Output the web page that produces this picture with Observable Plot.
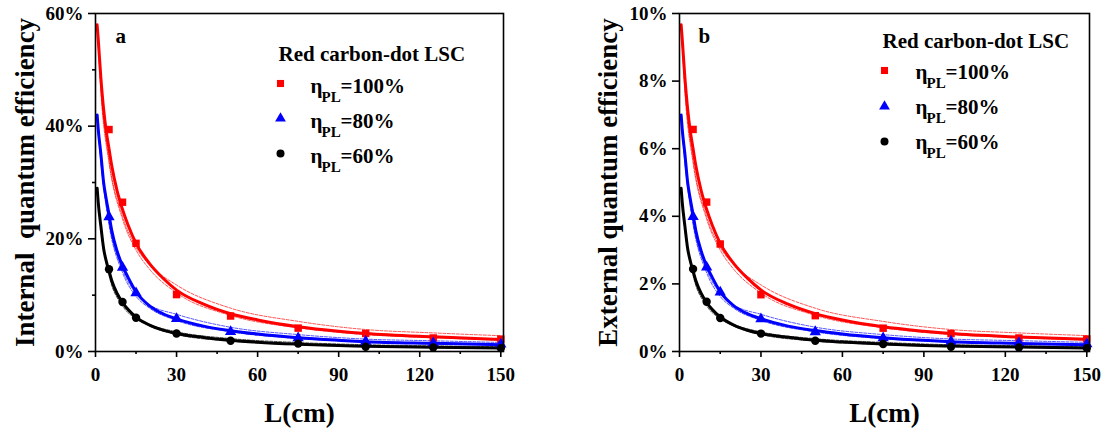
<!DOCTYPE html>
<html><head><meta charset="utf-8">
<script src="https://cdn.jsdelivr.net/npm/d3@7"></script>
<script src="https://cdn.jsdelivr.net/npm/@observablehq/plot@0.6"></script>
<style>
body{margin:0;background:#fff;}
#wrap{display:flex;width:1107px;height:432px;overflow:hidden;}
#wrap svg{font-family:"Liberation Serif","Times New Roman",serif;}
</style></head><body><div id="wrap"></div>
<script>
// ---- series definitions ----
const seriesLabels = ["100%", "80%", "60%"];
const seriesColors = ["#ff0000", "#0000ff", "#000000"];
const seriesSymbols = ["square", "triangle", "circle"];
const legendTitle = "Red carbon-dot LSC";

// ---- measured points ----
const measL = [5, 10, 15, 30, 50, 75, 100, 125, 150];
const iqeRed   = [39.4, 26.5, 19.2, 10.1, 6.3, 4.15, 3.2, 2.4, 2.2];
const iqeBlue  = [23.9, 14.9, 10.4, 5.8, 3.5, 2.4, 1.8, 1.5, 1.3];
const iqeBlack = [14.6, 8.8, 6.0, 3.2, 1.9, 1.4, 0.85, 0.7, 0.6];
const eqeRed   = [6.57, 4.42, 3.18, 1.68, 1.06, 0.69, 0.53, 0.40, 0.37];
const eqeBlue  = [3.99, 2.49, 1.75, 0.96, 0.58, 0.40, 0.30, 0.26, 0.22];
const eqeBlack = [2.44, 1.47, 0.99, 0.53, 0.32, 0.22, 0.14, 0.12, 0.10];

// ---- fitted curves ----
const fitL = [0.6, 1, 2, 3, 4, 5, 6, 8, 10, 12, 15, 20, 25, 30, 40, 50, 60, 75, 90, 100, 125, 150];
const iqeFitRed   = [58, 55.5, 48.5, 43, 39, 36, 33, 28.5, 25.2, 22.5, 19.2, 15.6, 13, 10.9, 8.4, 6.7, 5.6, 4.4, 3.6, 3.2, 2.6, 2.15];
const iqeFitBlue  = [42, 39.5, 35, 30, 27, 24.3, 21.5, 17.8, 15.2, 13.2, 10.6, 8.1, 6.7, 5.8, 4.5, 3.7, 3.1, 2.45, 2.0, 1.75, 1.45, 1.2];
const iqeFitBlack = [29, 26.5, 22.2, 18.3, 16, 14.3, 12.6, 10.3, 8.7, 7.5, 6.1, 4.7, 3.8, 3.2, 2.5, 2.0, 1.65, 1.3, 1.05, 0.95, 0.75, 0.62];
const eqeFitRed   = [9.67, 9.25, 8.08, 7.17, 6.5, 6.0, 5.5, 4.75, 4.2, 3.75, 3.2, 2.6, 2.17, 1.82, 1.4, 1.12, 0.93, 0.73, 0.6, 0.53, 0.43, 0.36];
const eqeFitBlue  = [7.0, 6.58, 5.83, 5.0, 4.5, 4.05, 3.58, 2.97, 2.53, 2.2, 1.77, 1.35, 1.12, 0.97, 0.75, 0.62, 0.52, 0.41, 0.33, 0.29, 0.24, 0.2];
const eqeFitBlack = [4.83, 4.42, 3.7, 3.05, 2.67, 2.38, 2.1, 1.72, 1.45, 1.25, 1.02, 0.78, 0.63, 0.53, 0.42, 0.33, 0.28, 0.22, 0.18, 0.16, 0.13, 0.1];

// ---- thin confidence band lines ----
const bandL = [1, 2, 5, 10, 15, 20, 30, 50, 75, 100, 125, 150];
const iqeBandRed1   = [55, 47, 34, 24, 18.5, 15.4, 11.8, 7.7, 5.35, 3.9, 3.3, 2.8];
const iqeBandRed2   = [54.5, 46, 33.5, 23.5, 18, 14.6, 10.4, 6.4, 4.2, 3.0, 2.45, 2.0];
const iqeBandBlue1  = [39, 34, 23, 14.5, 10.3, 8.3, 6.6, 4.3, 3.0, 2.2, 1.9, 1.6];
const iqeBandBlue2  = [38.8, 33.5, 22.5, 14, 9.8, 7.7, 5.5, 3.5, 2.3, 1.65, 1.35, 1.1];
const iqeBandBlack1 = [26.3, 21.8, 13.8, 8.4, 6.0, 4.8, 3.5, 2.3, 1.6, 1.2, 1.0, 0.85];
const iqeBandBlack2 = [26.2, 21.6, 13.5, 8.1, 5.8, 4.5, 3.0, 1.85, 1.2, 0.85, 0.7, 0.55];
const eqeBandRed1   = [9.17, 7.83, 5.67, 4.0, 3.08, 2.57, 1.97, 1.28, 0.89, 0.65, 0.55, 0.47];
const eqeBandRed2   = [9.08, 7.67, 5.58, 3.92, 3.0, 2.43, 1.73, 1.07, 0.7, 0.5, 0.41, 0.33];
const eqeBandBlue1  = [6.5, 5.67, 3.83, 2.42, 1.72, 1.38, 1.1, 0.72, 0.5, 0.37, 0.32, 0.27];
const eqeBandBlue2  = [6.47, 5.58, 3.75, 2.33, 1.63, 1.28, 0.92, 0.58, 0.38, 0.28, 0.23, 0.18];
const eqeBandBlack1 = [4.38, 3.63, 2.3, 1.4, 1.0, 0.8, 0.58, 0.38, 0.27, 0.2, 0.17, 0.14];
const eqeBandBlack2 = [4.37, 3.6, 2.25, 1.35, 0.97, 0.75, 0.5, 0.31, 0.2, 0.14, 0.12, 0.09];

// ---- ticks ----
const xTicks = [0, 30, 60, 90, 120, 150];
const xMinorTicks = [15, 45, 75, 105, 135];
const iqeTicks = [0, 20, 40, 60];
const iqeMinorTicks = [10, 30, 50];
const eqeTicks = [0, 2, 4, 6, 8, 10];
const eqeMinorTicks = [];

const FONT = "Liberation Serif, Times New Roman, serif";

function toRows(xs, ys) { return xs.map((x, i) => ({L: x, v: ys[i]})); }

function panel(o) {
  const marks = [];
  o.bands.forEach((pair, s) => pair.forEach(b => {
    marks.push(Plot.line(toRows(bandL, b), {x: "L", y: "v", stroke: seriesColors[s], strokeWidth: 0.8, strokeDasharray: "3,1.5", strokeOpacity: 0.85, curve: "monotone-x"}));
  }));
  o.fits.forEach((f, s) => {
    marks.push(Plot.line(toRows(fitL, f), {x: "L", y: "v", stroke: seriesColors[s], strokeWidth: 3, curve: "monotone-x"}));
  });
  o.meas.forEach((m, s) => {
    marks.push(Plot.dot(toRows(measL, m), {x: "L", y: "v", symbol: seriesSymbols[s], fill: seriesColors[s], stroke: "none", r: 4.2}));
  });
  marks.push(Plot.frame({stroke: "#000", strokeWidth: 1.6}));
  marks.push(Plot.axisX({ticks: xTicks, tickSize: 6, tickPadding: 10, label: null, fontSize: 19, fontWeight: "bold", strokeWidth: 1.6}));
  marks.push(Plot.axisX({ticks: xMinorTicks, tickSize: 3, tickFormat: () => "", label: null, strokeWidth: 1.6}));
  marks.push(Plot.axisY({ticks: o.yTicks, tickSize: 7, tickPadding: 5, tickFormat: d => d + "%", label: null, fontSize: 19, fontWeight: "bold", strokeWidth: 1.6}));
  if (o.yMinor.length) marks.push(Plot.axisY({ticks: o.yMinor, tickSize: 3, tickFormat: () => "", label: null, strokeWidth: 1.6}));
  // axis titles
  marks.push(Plot.text([o.yTitle], {text: d => d, frameAnchor: "left", textAnchor: "middle", lineAnchor: "middle", rotate: -90, dx: o.yTitleDx, fontSize: 27, fontWeight: "bold"}));
  marks.push(Plot.text(["L(cm)"], {text: d => d, frameAnchor: "bottom", textAnchor: "middle", lineAnchor: "middle", dy: 62, fontSize: 27, fontWeight: "bold"}));
  // panel letter
  marks.push(Plot.text([o.letter], {text: d => d, frameAnchor: "top-left", textAnchor: "start", lineAnchor: "middle", dx: o.letterDx, dy: 23, fontSize: 21, fontWeight: "bold"}));
  // legend
  const lg = o.legend;
  marks.push(Plot.text([legendTitle], {text: d => d, frameAnchor: "top-left", textAnchor: "start", lineAnchor: "middle", dx: lg.titleDx, dy: lg.titleDy, fontSize: 21, fontWeight: "bold"}));
  seriesLabels.forEach((lab, s) => {
    marks.push(Plot.dot([0], {frameAnchor: "top-left", dx: lg.markDx, dy: lg.markDy[s], symbol: seriesSymbols[s], fill: seriesColors[s], r: 4}));
    marks.push(Plot.text(["η"], {text: d => d, frameAnchor: "top-left", textAnchor: "start", lineAnchor: "middle", dx: lg.etaDx, dy: lg.textDy[s], fontSize: 21, fontWeight: "bold"}));
    marks.push(Plot.text(["PL"], {text: d => d, frameAnchor: "top-left", textAnchor: "start", lineAnchor: "middle", dx: lg.etaDx + 11, dy: lg.textDy[s] + 11, fontSize: 15, fontWeight: "bold"}));
    marks.push(Plot.text(["=" + lab], {text: d => d, frameAnchor: "top-left", textAnchor: "start", lineAnchor: "middle", dx: lg.etaDx + 30, dy: lg.textDy[s], fontSize: 21, fontWeight: "bold"}));
  });
  return Plot.plot({
    width: o.width, height: 432,
    marginLeft: o.marginLeft, marginRight: o.marginRight, marginTop: 13, marginBottom: 81,
    x: {domain: [0, 151]},
    y: {domain: [0, o.yMax]},
    style: {fontFamily: FONT, fontWeight: "bold", fontSize: "19px", color: "#000", background: "#fff", overflow: "visible"},
    marks
  });
}

const wrap = document.getElementById("wrap");
wrap.appendChild(panel({
  width: 553, marginLeft: 95, marginRight: 50, yMax: 60,
  yTicks: iqeTicks, yMinor: iqeMinorTicks,
  fits: [iqeFitRed, iqeFitBlue, iqeFitBlack],
  bands: [[iqeBandRed1, iqeBandRed2], [iqeBandBlue1, iqeBandBlue2], [iqeBandBlack1, iqeBandBlack2]],
  meas: [iqeRed, iqeBlue, iqeBlack],
  yTitle: "Internal\u00a0 quantum efficiency", yTitleDx: -70,
  letter: "a", letterDx: 20,
  legend: {titleDx: 183, titleDy: 41, markDx: 185, markDy: [70, 105, 140], etaDx: 215, textDy: [73, 108, 143]}
}));
wrap.appendChild(panel({
  width: 554, marginLeft: 126, marginRight: 18, yMax: 10,
  yTicks: eqeTicks, yMinor: eqeMinorTicks,
  fits: [eqeFitRed, eqeFitBlue, eqeFitBlack],
  bands: [[eqeBandRed1, eqeBandRed2], [eqeBandBlue1, eqeBandBlue2], [eqeBandBlack1, eqeBandBlack2]],
  meas: [eqeRed, eqeBlue, eqeBlack],
  yTitle: "External quantum efficiency", yTitleDx: -71,
  letter: "b", letterDx: 19,
  legend: {titleDx: 203, titleDy: 28, markDx: 205, markDy: [57, 93, 128], etaDx: 236, textDy: [59, 94, 129]}
}));
</script></body></html>
